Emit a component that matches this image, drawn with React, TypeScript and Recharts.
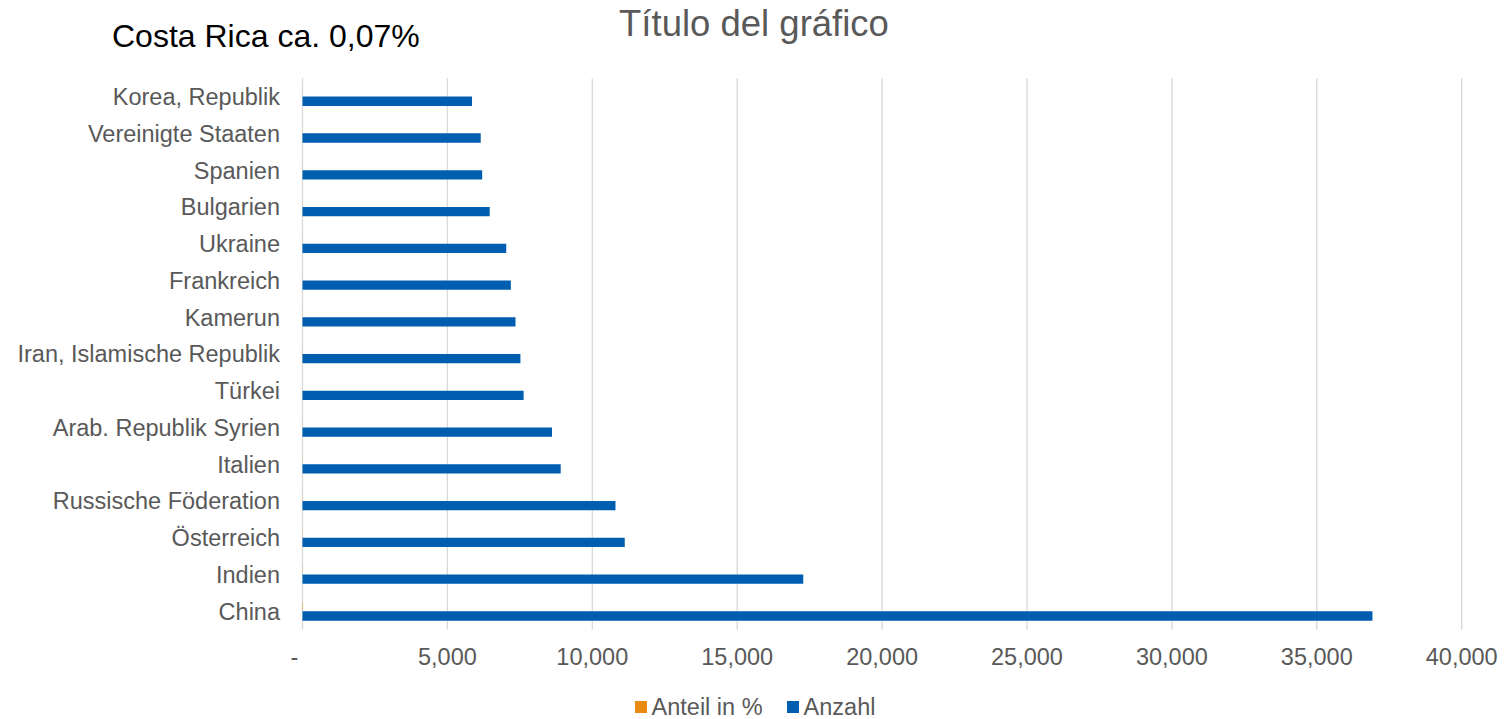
import { BarChart, Bar, XAxis, YAxis, CartesianGrid, Legend } from 'recharts'

const countries = [
    'Korea, Republik',
    'Vereinigte Staaten',
    'Spanien',
    'Bulgarien',
    'Ukraine',
    'Frankreich',
    'Kamerun',
    'Iran, Islamische Republik',
    'Türkei',
    'Arab. Republik Syrien',
    'Italien',
    'Russische Föderation',
    'Österreich',
    'Indien',
    'China',
]
const anzahl = [5850, 6150, 6200, 6460, 7030, 7190, 7350, 7520, 7630, 8610, 8910, 10800, 11120, 17280, 36920]
const anteilProzent = [2.1, 2.2, 2.2, 2.3, 2.5, 2.5, 2.6, 2.7, 2.7, 3.1, 3.2, 3.8, 3.9, 6.1, 13.1]
const xTicks = [0, 5000, 10000, 15000, 20000, 25000, 30000, 35000, 40000]

const data = countries.map((name, i) => ({ name, anteil: anteilProzent[i], anzahl: anzahl[i] }))

const TEXT = '#595959'
const COLORS = { anteil: '#E98A15', anzahl: '#005EB0' }
const FONT = '"Liberation Sans", Arial, sans-serif'

// Excel-Buchhaltungsformat: 0 wird als "-" angezeigt
function XTick(props: any) {
    const { x, y, payload } = props
    const v = payload.value as number
    const label = v === 0 ? '-' : v.toLocaleString('en-US')
    return (
        <text x={v === 0 ? x - 8 : x} y={y} dy="0.71em" textAnchor="middle" fill={TEXT} fontSize={23.5}>
            {label}
        </text>
    )
}

function renderLegend(props: any) {
    const items = props.payload || []
    return (
        <div style={{ display: 'flex', justifyContent: 'center', alignItems: 'center', height: 24, paddingLeft: 6, fontSize: 23.5, color: TEXT }}>
            {items.map((e: any, i: number) => (
                <div key={e.value} style={{ display: 'flex', alignItems: 'center', marginLeft: i === 0 ? 0 : 24 }}>
                    <span style={{ display: 'inline-block', width: 12, height: 12, background: e.color, marginRight: 5 }} />
                    <span>{e.value}</span>
                </div>
            ))}
        </div>
    )
}

export default function App() {
    return (
        <div style={{ position: 'absolute', left: 0, top: 0, width: 1504, height: 719, background: '#fff', fontFamily: FONT }}>
            <BarChart
                width={1504}
                height={719}
                data={data}
                layout="vertical"
                margin={{ top: 78.3, right: 42.3, bottom: 15.2, left: 0 }}
                barGap={0}
            >
                <CartesianGrid horizontal={false} stroke="#D9D9D9" strokeWidth={1.3} />
                <XAxis
                    type="number"
                    domain={[0, 40000]}
                    ticks={xTicks}
                    axisLine={false}
                    tickLine={false}
                    tickSize={0}
                    tickMargin={19}
                    height={50}
                    tick={<XTick />}
                />
                <YAxis
                    type="category"
                    dataKey="name"
                    width={302.5}
                    axisLine={false}
                    tickLine={false}
                    tickSize={0}
                    tickMargin={22.5}
                    interval={0}
                    tick={{ fill: TEXT, fontSize: 23.5 }}
                />
                <Legend
                    verticalAlign="bottom"
                    align="center"
                    wrapperStyle={{ left: 0, width: 1504, bottom: 0, height: 24 }}
                    content={renderLegend}
                />
                <Bar dataKey="anteil" name="Anteil in %" fill={COLORS.anteil} barSize={9.3} isAnimationActive={false} />
                <Bar dataKey="anzahl" name="Anzahl" fill={COLORS.anzahl} barSize={9.3} isAnimationActive={false} />
            </BarChart>
            <svg width={1504} height={719} style={{ position: 'absolute', left: 0, top: 0, pointerEvents: 'none' }}>
                <text x={754} y={35.5} textAnchor="middle" fill={TEXT} fontSize={36.5}>Título del gráfico</text>
                <text x={112} y={47} fill="#000" fontSize={32}>Costa Rica ca. 0,07%</text>
            </svg>
        </div>
    )
}
